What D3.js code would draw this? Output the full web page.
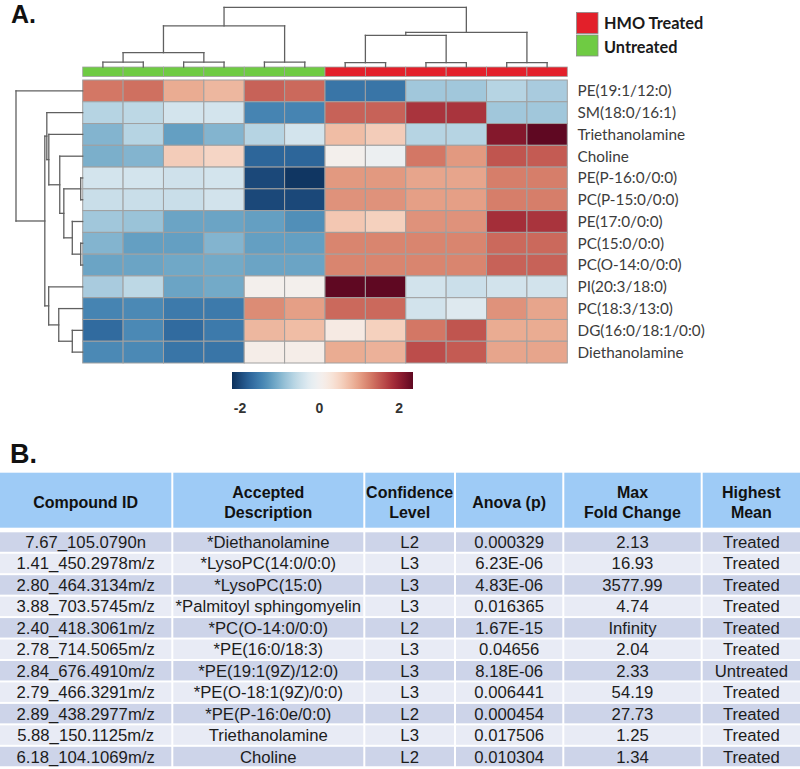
<!DOCTYPE html>
<html>
<head>
<meta charset="utf-8">
<script src="https://cdn.jsdelivr.net/npm/d3@7"></script>
<style>
  html, body { margin: 0; padding: 0; background: #fff; }
  svg { display: block; }
</style>
</head>
<body>
<svg id="chart" width="800" height="769"></svg>
<script>
// ---------------- DATA ----------------
const rowLabels = [
  "PE(19:1/12:0)", "SM(18:0/16:1)", "Triethanolamine", "Choline",
  "PE(P-16:0/0:0)", "PC(P-15:0/0:0)", "PE(17:0/0:0)", "PC(15:0/0:0)",
  "PC(O-14:0/0:0)", "PI(20:3/18:0)", "PC(18:3/13:0)", "DG(16:0/18:1/0:0)",
  "Diethanolamine"
];
const sampleGroups = [
  "Untreated", "Untreated", "Untreated", "Untreated", "Untreated", "Untreated",
  "HMO Treated", "HMO Treated", "HMO Treated", "HMO Treated", "HMO Treated", "HMO Treated"
];
const legendGroups = ["HMO Treated", "Untreated"];
// z-scored values, rows in display order, 12 samples each
const zValues = [
  [ 1.30,  1.35,  0.90,  0.80,  1.45,  1.40, -1.60, -1.60, -0.80, -0.80, -0.65, -0.75],
  [-0.65, -0.60, -0.40, -0.40, -1.45, -1.45,  1.45,  1.45,  1.80,  1.80, -0.80, -0.80],
  [-1.00, -0.65, -1.20, -1.00, -0.65, -0.40,  0.75,  0.60, -0.65, -0.65,  2.10,  2.35],
  [-1.05, -1.00,  0.60,  0.50, -1.75, -1.75,  0.05, -0.10,  1.30,  1.05,  1.55,  1.50],
  [-0.40, -0.40, -0.45, -0.40, -2.00, -2.15,  1.05,  1.05,  0.95,  0.95,  1.25,  1.25],
  [-0.50, -0.50, -0.50, -0.42, -2.00, -2.00,  1.10,  1.10,  1.00,  1.00,  1.25,  1.25],
  [-0.80, -0.85, -1.15, -1.15, -1.20, -1.35,  0.65,  0.55,  1.10,  1.10,  1.85,  1.80],
  [-1.00, -1.20, -1.20, -1.00, -1.20, -1.20,  1.20,  1.20,  1.20,  1.20,  1.40,  1.40],
  [-1.15, -1.15, -1.12, -1.10, -1.15, -1.15,  1.20,  1.20,  1.20,  1.20,  1.45,  1.45],
  [-0.75, -0.60, -1.15, -1.10,  0.05,  0.05,  2.35,  2.35, -0.42, -0.48, -0.42, -0.42],
  [-1.45, -1.40, -1.55, -1.55,  1.15,  1.00,  1.40,  1.40, -0.42, -0.30,  1.10,  0.95],
  [-1.70, -1.40, -1.70, -1.55,  0.80,  0.75,  0.20,  0.55,  1.30,  1.55,  0.90,  0.90],
  [-1.40, -1.40, -1.60, -1.60,  0.12,  0.12,  0.90,  0.85,  1.60,  1.50,  0.95,  0.95]
];
// hclust-style merges: negative = leaf (1-based), positive = earlier merge (1-based); [a, b, height]
const rowMerges = [
  [-5, -6, 0.3], [-8, -9, 0.3], [-7, 2, 1.56], [1, 3, 2.83], [-4, 4, 3.44],
  [-3, 5, 5.08], [-2, 6, 5.38], [-12, -13, 1.56], [-11, 8, 3.59], [-10, 9, 5.1],
  [7, 10, 5.68], [-1, 11, 10]
];
const colMerges = [
  [-1, -2, 0.83], [-3, -4, 0.83], [-5, -6, 0.83], [1, 2, 2.4], [4, 3, 6.9],
  [-7, -8, 0.72], [-9, -10, 0.72], [-11, -12, 0.72], [6, 7, 5.3], [9, 8, 5.8],
  [5, 10, 10]
];
const colorDomain = [-2.2, 0, 2.35];
const colorTicks = [-2, 0, 2];

// table data
const tableHeaders = [
  ["Compound ID"], ["Accepted", "Description"], ["Confidence", "Level"],
  ["Anova (p)"], ["Max", "Fold Change"], ["Highest", "Mean"]
];
const compoundIds = [
  "7.67_105.0790n", "1.41_450.2978m/z", "2.80_464.3134m/z", "3.88_703.5745m/z",
  "2.40_418.3061m/z", "2.78_714.5065m/z", "2.84_676.4910m/z", "2.79_466.3291m/z",
  "2.89_438.2977m/z", "5.88_150.1125m/z", "6.18_104.1069m/z"
];
const descriptions = [
  "*Diethanolamine", "*LysoPC(14:0/0:0)", "*LysoPC(15:0)", "*Palmitoyl sphingomyelin",
  "*PC(O-14:0/0:0)", "*PE(16:0/18:3)", "*PE(19:1(9Z)/12:0)", "*PE(O-18:1(9Z)/0:0)",
  "*PE(P-16:0e/0:0)", "Triethanolamine", "Choline"
];
const confidence = ["L2", "L3", "L3", "L3", "L2", "L3", "L3", "L3", "L2", "L3", "L2"];
const anovaP = ["0.000329", "6.23E-06", "4.83E-06", "0.016365", "1.67E-15", "0.04656",
  "8.18E-06", "0.006441", "0.000454", "0.017506", "0.010304"];
const foldChange = ["2.13", "16.93", "3577.99", "4.74", "Infinity", "2.04", "2.33",
  "54.19", "27.73", "1.25", "1.34"];
const highestMean = ["Treated", "Treated", "Treated", "Treated", "Treated", "Treated",
  "Untreated", "Treated", "Treated", "Treated", "Treated"];

// ---------------- DRAW ----------------
const svg = d3.select("#chart");
const nRows = rowLabels.length, nCols = sampleGroups.length;

const hmLeft = 82.7, hmRight = 567.3, hmTop = 80, hmBottom = 363;
const x = d3.scaleBand().domain(d3.range(nCols)).range([hmLeft, hmRight]);
const y = d3.scaleBand().domain(d3.range(nRows)).range([hmTop, hmBottom]);
const muted = t => { const c = d3.hsl(d3.interpolateRdBu(1 - t)); c.s *= 0.84; return c.formatHex(); };
const color = d3.scaleDiverging().domain(colorDomain).interpolator(muted);
const groupColor = d3.scaleOrdinal().domain(legendGroups).range(["#e3202a", "#6fcb43"]);

const font = "Lato, 'Open Sans', sans-serif";
const arial = "'Liberation Sans', Arial, sans-serif";

// panel labels
svg.append("text").attr("x", 11).attr("y", 22.5).text("A.")
  .attr("font-family", arial).attr("font-weight", "bold").attr("font-size", 25).attr("fill", "#111");
svg.append("text").attr("x", 10).attr("y", 463).text("B.")
  .attr("font-family", arial).attr("font-weight", "bold").attr("font-size", 27).attr("fill", "#111");

// heatmap cells
const cells = [];
zValues.forEach((row, i) => row.forEach((v, j) => cells.push({ i, j, v })));
svg.append("g").selectAll("rect").data(cells).join("rect")
  .attr("x", d => x(d.j)).attr("y", d => y(d.i))
  .attr("width", x.bandwidth()).attr("height", y.bandwidth())
  .attr("fill", d => color(d.v))
  .attr("stroke", "#a0a0a0").attr("stroke-width", 1);

// annotation bar
svg.append("g").selectAll("rect").data(sampleGroups).join("rect")
  .attr("x", (d, j) => x(j)).attr("y", 67)
  .attr("width", x.bandwidth()).attr("height", 9.5)
  .attr("fill", d => groupColor(d))
  .attr("stroke", "#a0a0a0").attr("stroke-width", 0.8);

// dendrogram helper
function dendro(merges, leafPos, hScale, orient) {
  const pos = [], ht = [];
  const segs = [];
  const get = k => k < 0 ? { p: leafPos(-k - 1), h: 0 } : { p: pos[k - 1], h: ht[k - 1] };
  merges.forEach(([a, b, h], idx) => {
    const A = get(a), B = get(b);
    pos[idx] = (A.p + B.p) / 2; ht[idx] = h;
    if (orient === "top") {
      segs.push([A.p, hScale(A.h), A.p, hScale(h)]);
      segs.push([B.p, hScale(B.h), B.p, hScale(h)]);
      segs.push([A.p, hScale(h), B.p, hScale(h)]);
    } else {
      segs.push([hScale(A.h), A.p, hScale(h), A.p]);
      segs.push([hScale(B.h), B.p, hScale(h), B.p]);
      segs.push([hScale(h), A.p, hScale(h), B.p]);
    }
  });
  return segs;
}
const colH = d3.scaleLinear().domain([0, 10]).range([67, 7.3]);
const rowH = d3.scaleLinear().domain([0, 10]).range([hmLeft, 16]);
const colSegs = dendro(colMerges, j => x(j) + x.bandwidth() / 2, colH, "top");
const rowSegs = dendro(rowMerges, i => y(i) + y.bandwidth() / 2, rowH, "left");
svg.append("g").selectAll("line").data(colSegs.concat(rowSegs)).join("line")
  .attr("x1", d => d[0]).attr("y1", d => d[1]).attr("x2", d => d[2]).attr("y2", d => d[3])
  .attr("stroke", "#606060").attr("stroke-width", 1.3).attr("stroke-linecap", "square");

// row labels
svg.append("g").selectAll("text").data(rowLabels).join("text")
  .attr("x", 577.5).attr("y", (d, i) => y(i) + y.bandwidth() / 2 + 5.4)
  .text(d => d)
  .attr("font-family", font).attr("font-size", 15.3).attr("fill", "#3c3c3c");

// legend
const lg = svg.append("g");
legendGroups.forEach((g, k) => {
  lg.append("rect").attr("x", 576.5).attr("y", 12.5 + k * 22.5).attr("width", 21.5).attr("height", 21)
    .attr("fill", groupColor(g)).attr("stroke", "#8a8a8a").attr("stroke-width", 0.8);
  lg.append("text").attr("x", 604).attr("y", 28.5 + k * 24.5).text(g)
    .attr("font-family", font).attr("font-weight", "bold").attr("font-size", 16.3).attr("fill", "#1a1a1a");
});

// colour bar
const cbX = d3.scaleLinear().domain([colorDomain[0], colorDomain[2]]).range([232, 413]);
const defs = svg.append("defs");
const grad = defs.append("linearGradient").attr("id", "cbgrad").attr("x1", "0%").attr("x2", "100%");
d3.range(0, 1.0001, 0.02).forEach(t => {
  const v = colorDomain[0] + t * (colorDomain[2] - colorDomain[0]);
  grad.append("stop").attr("offset", (t * 100) + "%").attr("stop-color", color(v));
});
svg.append("rect").attr("x", cbX.range()[0]).attr("y", 372)
  .attr("width", cbX.range()[1] - cbX.range()[0]).attr("height", 17).attr("fill", "url(#cbgrad)");
svg.append("g").selectAll("text").data(colorTicks).join("text")
  .attr("x", d => cbX(d)).attr("y", 413).attr("text-anchor", "middle")
  .text(d => d)
  .attr("font-family", arial).attr("font-weight", "bold").attr("font-size", 14).attr("fill", "#333");

// ---------------- TABLE ----------------
const colEdges = [0, 172.3, 364.3, 455, 563.3, 701.7, 800];
const headTop = 472.7, headBottom = 527.7;
const bodyTop = 532.3, rowStep = 21.45, gap = 2;
const tableCols = [compoundIds, descriptions, confidence, anovaP, foldChange, highestMean];
const tg = svg.append("g");
tableHeaders.forEach((lines, c) => {
  const x0 = colEdges[c] + (c === 0 ? 0 : 1), x1 = colEdges[c + 1] - (c === 5 ? 0 : 1);
  tg.append("rect").attr("x", x0).attr("y", headTop).attr("width", x1 - x0).attr("height", headBottom - headTop)
    .attr("fill", "#9ecbf6");
  const cx = (x0 + x1) / 2;
  const baseY = lines.length === 1 ? [507.5] : [497.5, 517.5];
  lines.forEach((ln, k) => {
    tg.append("text").attr("x", cx).attr("y", baseY[k]).attr("text-anchor", "middle").text(ln)
      .attr("font-family", arial).attr("font-weight", "bold").attr("font-size", 16).attr("fill", "#111");
  });
  tableCols[c].forEach((val, r) => {
    const ry = bodyTop + r * rowStep;
    tg.append("rect").attr("x", x0).attr("y", ry).attr("width", x1 - x0).attr("height", rowStep - gap)
      .attr("fill", r % 2 === 0 ? "#cdd4e9" : "#e8ebf5");
    tg.append("text").attr("x", cx).attr("y", ry + (rowStep - gap) / 2 + 6)
      .attr("text-anchor", "middle").text(val)
      .attr("font-family", arial).attr("font-size", 16.7).attr("fill", "#1c1c1c");
  });
});
</script>
</body>
</html>
